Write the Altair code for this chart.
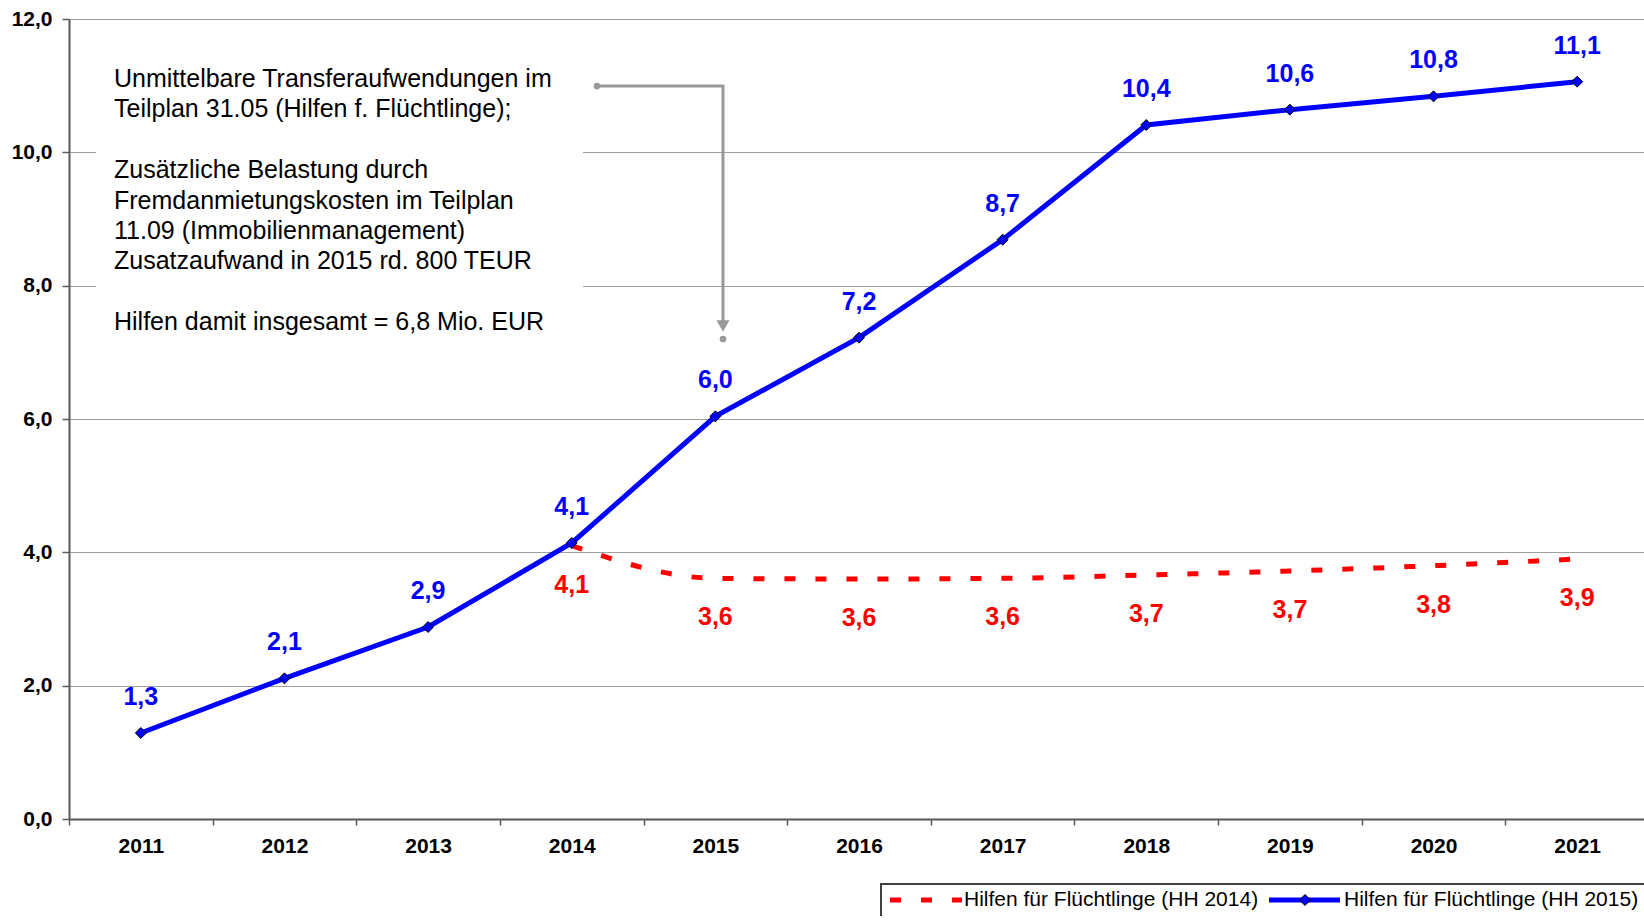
import altair as alt
import pandas as pd

# ---------------- data ----------------
years = ["2011", "2012", "2013", "2014", "2015", "2016", "2017", "2018", "2019", "2020", "2021"]
hh2015_values = [1.29, 2.11, 2.88, 4.14, 6.04, 7.22, 8.69, 10.41, 10.64, 10.84, 11.06]
hh2014_years = ["2014", "2015", "2016", "2017", "2018", "2019", "2020", "2021"]
hh2014_values = [4.10, 3.61, 3.60, 3.61, 3.66, 3.72, 3.80, 3.90]
y_ticks = [0, 2, 4, 6, 8, 10, 12]
legend_labels = ["Hilfen für Flüchtlinge (HH 2014)", "Hilfen für Flüchtlinge (HH 2015)"]
annotation_block1 = [
    "Unmittelbare Transferaufwendungen im",
    "Teilplan 31.05 (Hilfen f. Flüchtlinge);",
]
annotation_block2 = [
    "Zusätzliche Belastung durch",
    "Fremdanmietungskosten im Teilplan",
    "11.09 (Immobilienmanagement)",
    "Zusatzaufwand in 2015 rd. 800 TEUR",
]
annotation_block3 = ["Hilfen damit insgesamt = 6,8 Mio. EUR"]

df15 = pd.DataFrame({"Jahr": years, "Wert": hh2015_values})
df14 = pd.DataFrame({"Jahr": hh2014_years, "Wert": hh2014_values})
dummy = pd.DataFrame({"d": [0]})

FONT = "Liberation Sans"
BLUE = "#0000FF"
RED = "#FF0000"
GREY = "#A0A0A0"
AXIS = "#595959"
LABEL_EXPR = "replace(format(datum.Wert, '.1f'), '.', ',')"
LH = 30.4

x_enc = alt.X(
    "Jahr:N",
    sort=years,
    scale=alt.Scale(type="band", domain=years, paddingInner=0, paddingOuter=0, range=[0, 1580]),
    axis=alt.Axis(
        title=None, labelAngle=0, labelFont=FONT, labelFontSize=21, labelFontWeight="bold",
        labelColor="black", tickBand="extent", tickSize=6, tickColor=AXIS, tickWidth=1.5,
        domainColor=AXIS, domainWidth=2, labelPadding=10, grid=False,
    ),
)
y_enc = alt.Y(
    "Wert:Q",
    scale=alt.Scale(domain=[0, 12], nice=False),
    axis=alt.Axis(
        title=None, values=y_ticks,
        labelExpr="replace(format(datum.value, '.1f'), '.', ',')",
        labelFont=FONT, labelFontSize=21, labelFontWeight="bold", labelColor="black",
        tickSize=7, tickColor=AXIS, tickWidth=1.5, labelPadding=10,
        domainColor=AXIS, domainWidth=2, grid=True, gridColor=GREY, gridWidth=1,
    ),
)

red_line = alt.Chart(df14).mark_line(
    color=RED, strokeWidth=5, strokeDash=[11, 20], interpolate="monotone"
).encode(x=x_enc, y=y_enc)

blue_line = alt.Chart(df15).mark_line(color=BLUE, strokeWidth=5).encode(x=x_enc, y=y_enc)

blue_pts = alt.Chart(df15).mark_point(
    shape="diamond", filled=True, fill=BLUE, stroke="black", strokeWidth=1, size=120, opacity=1
).encode(x=x_enc, y=y_enc)

blue_lbl = alt.Chart(df15).transform_calculate(label=LABEL_EXPR).mark_text(
    dy=-36, fontSize=25, fontWeight="bold", color=BLUE, font=FONT
).encode(x=x_enc, y=y_enc, text="label:N")

red_lbl = alt.Chart(df14).transform_calculate(label=LABEL_EXPR).mark_text(
    dy=39, fontSize=25, fontWeight="bold", color=RED, font=FONT
).encode(x=x_enc, y=y_enc, text="label:N")

# ---------------- annotation box ----------------
box = alt.Chart(dummy).mark_rect(color="white").encode(
    x=alt.value(27), x2=alt.value(514), y=alt.value(11), y2=alt.value(331)
)


def note_block(lines, y):
    return alt.Chart(dummy).mark_text(
        align="left", baseline="alphabetic", fontSize=25, font=FONT, lineHeight=LH, color="black"
    ).encode(x=alt.value(45), y=alt.value(y), text=alt.value(lines))


note1 = note_block(annotation_block1, 68)
note2 = note_block(annotation_block2, 68 + 3 * LH)
note3 = note_block(annotation_block3, 68 + 8 * LH)

arrow_h = alt.Chart(dummy).mark_rule(color="#999999", strokeWidth=3).encode(
    x=alt.value(528), x2=alt.value(655), y=alt.value(67)
)
arrow_v = alt.Chart(dummy).mark_rule(color="#999999", strokeWidth=3).encode(
    x=alt.value(654), y=alt.value(66), y2=alt.value(304)
)
arrow_head = alt.Chart(dummy).mark_point(
    shape="triangle-down", filled=True, color="#999999", size=170, opacity=1
).encode(x=alt.value(654), y=alt.value(307))
dot1 = alt.Chart(dummy).mark_point(shape="circle", filled=True, color="#999999", size=45, opacity=1).encode(
    x=alt.value(528), y=alt.value(67)
)
dot2 = alt.Chart(dummy).mark_point(shape="circle", filled=True, color="#999999", size=45, opacity=1).encode(
    x=alt.value(654), y=alt.value(320)
)

# ---------------- legend ----------------
LY = 881
leg_box = alt.Chart(dummy).mark_rect(fill="white", stroke="#404040", strokeWidth=2).encode(
    x=alt.value(812), x2=alt.value(1640), y=alt.value(865), y2=alt.value(990)
)
leg_red = alt.Chart(dummy).mark_rule(color=RED, strokeWidth=5, strokeDash=[11, 20]).encode(
    x=alt.value(821), x2=alt.value(893), y=alt.value(LY)
)
leg_blue = alt.Chart(dummy).mark_rule(color=BLUE, strokeWidth=5).encode(
    x=alt.value(1200), x2=alt.value(1271), y=alt.value(LY)
)
leg_dia = alt.Chart(dummy).mark_point(
    shape="diamond", filled=True, fill=BLUE, stroke="black", strokeWidth=1, size=120, opacity=1
).encode(x=alt.value(1236), y=alt.value(LY))
leg_t1 = alt.Chart(dummy).mark_text(align="left", baseline="middle", fontSize=21, font=FONT, color="black").encode(
    x=alt.value(895), y=alt.value(LY), text=alt.value(legend_labels[0])
)
leg_t2 = alt.Chart(dummy).mark_text(align="left", baseline="middle", fontSize=21, font=FONT, color="black").encode(
    x=alt.value(1275), y=alt.value(LY), text=alt.value(legend_labels[1])
)

chart = alt.layer(
    red_line, blue_line, blue_pts, blue_lbl, red_lbl,
    box, note1, note2, note3, arrow_h, arrow_v, arrow_head, dot1, dot2,
    leg_box, leg_red, leg_blue, leg_dia, leg_t1, leg_t2,
).properties(
    width=1575,
    height=800,
    autosize=alt.AutoSizeParams(type="none"),
    padding={"left": 69, "top": 19, "right": 0, "bottom": 97},
    background="white",
).configure_view(stroke=None)

chart.save("out.html", embed_options={"renderer": "svg", "actions": False})
